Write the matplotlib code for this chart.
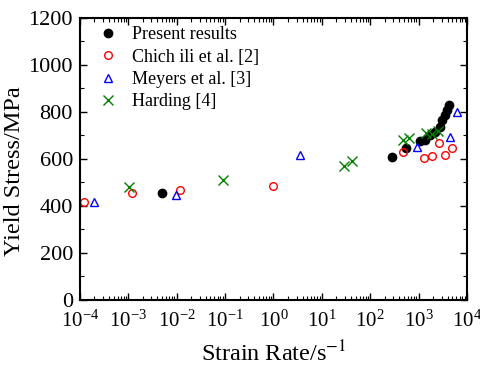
import matplotlib
matplotlib.use('Agg')
import matplotlib.pyplot as plt
from matplotlib.ticker import LogLocator, MultipleLocator, NullFormatter

plt.rcParams['font.family'] = 'Liberation Serif'
plt.rcParams['mathtext.fontset'] = 'stix'

# Present results
present_rate = [0.005, 275, 550, 1060, 1340, 1700, 2140, 2730, 3100, 3460, 3780, 4200]
present_stress = [455, 607, 648, 677, 681, 702, 716, 737, 766, 787, 809, 830]

# Chichili et al. [2]
chich_rate = [1.2e-4, 1.2e-3, 0.012, 0.96, 480, 1290, 1900, 2630, 3460, 4900]
chich_stress = [416, 454, 468, 486, 628, 603, 614, 667, 617, 648]

# Meyers et al. [3]
meyers_rate = [2e-4, 0.0095, 3.5, 930, 4400, 6300]
meyers_stress = [418, 447, 617, 650, 695, 799]

# Harding [4]
harding_rate = [1.02e-3, 0.089, 29, 41, 470, 630, 1450, 1870, 2540]
harding_stress = [480, 511, 570, 591, 681, 688, 712, 706, 720]

fig = plt.figure(figsize=(4.81, 3.67), dpi=100)
ax = fig.add_axes([0.166, 0.183, 0.805, 0.768])

ax.plot(present_rate, present_stress, 'o', color='black', ms=6, label='Present results')
ax.plot(chich_rate, chich_stress, 'o', mfc='none', mec='red', mew=1, ms=5.5, label='Chich ili et al. [2]')
ax.plot(meyers_rate, meyers_stress, '^', mfc='none', mec='blue', mew=1, ms=6, label='Meyers et al. [3]')
ax.plot(harding_rate, harding_stress, 'x', color='green', mew=1, ms=7, label='Harding [4]')

ax.set_xscale('log')
ax.set_xlim(1e-4, 1e4)
ax.set_ylim(0, 1200)
ax.xaxis.set_major_locator(LogLocator(base=10, numticks=20))
ax.xaxis.set_minor_locator(LogLocator(base=10, subs=range(2, 10), numticks=20))
ax.xaxis.set_minor_formatter(NullFormatter())
ax.yaxis.set_major_locator(MultipleLocator(200))
ax.yaxis.set_minor_locator(MultipleLocator(100))

ax.tick_params(which='both', direction='in', top=True, right=True)
ax.tick_params(which='major', length=5, width=1)
ax.tick_params(which='minor', length=3, width=0.8)
ax.tick_params(axis='x', which='major', pad=8, labelsize=15)
ax.tick_params(axis='y', which='major', pad=5, labelsize=16)
for s in ax.spines.values():
    s.set_linewidth(1.5)

ax.set_xlabel('Strain Rate/s$^{-1}$', fontsize=17.5, labelpad=6)
ax.set_ylabel('Yield Stress/MPa', fontsize=17.5)
ax.yaxis.set_label_coords(-0.142, 0.457)

ax.legend(loc='upper left', bbox_to_anchor=(0.016, 1.0), frameon=False, fontsize=13,
          handletextpad=0.6, labelspacing=0.3, borderaxespad=0.05, handlelength=1.5,
          numpoints=1)

fig.savefig('out.png', dpi=100)
